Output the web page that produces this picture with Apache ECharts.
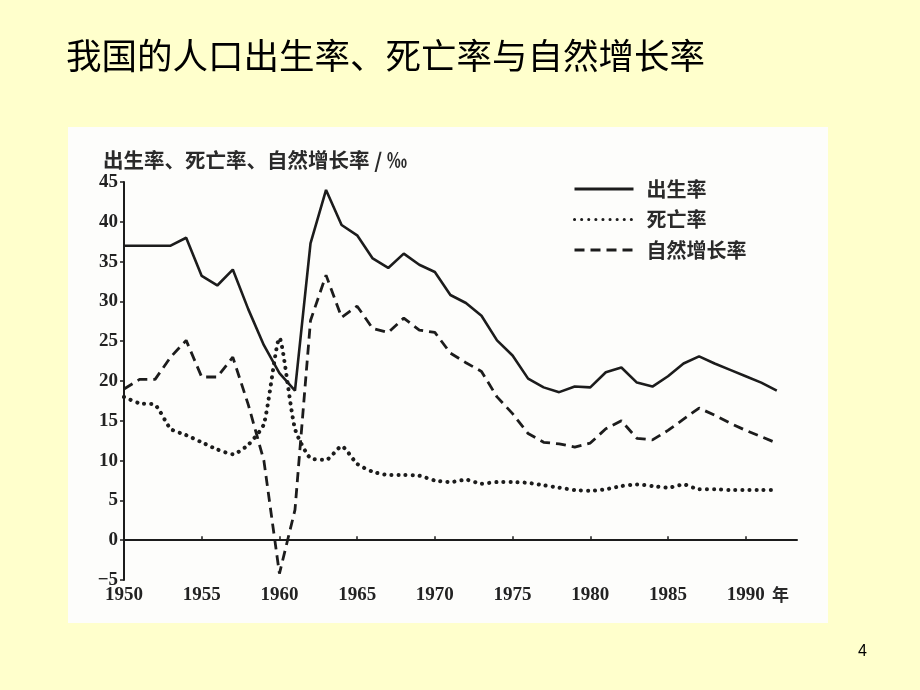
<!DOCTYPE html>
<html>
<head>
<meta charset="utf-8">
<script src="https://cdn.jsdelivr.net/npm/echarts@6/dist/echarts.min.js"></script>
<style>
html,body{margin:0;padding:0;background:#FFFFCC;}
#chart{width:920px;height:690px;}
</style>
</head>
<body>
<div id="chart"></div>
<script>
const years = [1950,1951,1952,1953,1954,1955,1956,1957,1958,1959,1960,1961,1962,1963,1964,1965,1966,1967,1968,1969,1970,1971,1972,1973,1974,1975,1976,1977,1978,1979,1980,1981,1982,1983,1984,1985,1986,1987,1988,1989,1990,1991,1992];
const birthRate = [37.0,37.0,37.0,37.0,38.0,33.2,32.0,34.0,29.0,24.5,21.0,18.8,37.3,44.0,39.6,38.3,35.4,34.2,36.0,34.6,33.7,30.8,29.8,28.2,25.1,23.2,20.3,19.2,18.6,19.3,19.2,21.1,21.7,19.8,19.3,20.6,22.2,23.1,22.2,21.4,20.6,19.8,18.8];
const deathRate = [18.0,17.2,17.0,14.0,13.2,12.3,11.4,10.8,12.0,14.6,25.4,14.0,10.3,10.1,11.8,9.6,8.6,8.2,8.2,8.1,7.5,7.3,7.6,7.1,7.3,7.3,7.2,6.9,6.6,6.3,6.2,6.4,6.8,7.0,6.8,6.6,7.0,6.4,6.4,6.3,6.3,6.3,6.3];
const growthRate = [19.0,20.2,20.2,23.0,25.1,20.5,20.5,23.0,17.0,10.0,-4.2,3.8,27.6,33.3,28.0,29.4,26.6,26.1,27.9,26.4,26.1,23.5,22.3,21.2,18.0,15.9,13.4,12.3,12.1,11.7,12.2,14.0,15.0,12.8,12.6,13.8,15.2,16.6,15.7,14.7,13.8,13.0,12.2];
const seriesNames = ['出生率','死亡率','自然增长率'];
const yTicks = {min:-5, max:45, interval:5};
const xTicks = {min:1950, interval:5};
const xUnit = '年';

const pair = (vals) => years.map((y,i)=>[y, vals[i]]);
const ink = '#1c1c1c';
const chart = echarts.init(document.getElementById('chart'));
chart.setOption({
  backgroundColor: '#FFFFCC',
  animation: false,
  graphic: [
    {type:'rect', z:-10, silent:true,
     shape:{x:68,y:127,width:760,height:496},
     style:{fill:'#FDFDFB'}},
    {type:'text', left:772, top:586, z:10, silent:true,
     style:{text:xUnit, fontFamily:'Noto Sans CJK SC', fontSize:17, fontWeight:'bold', fill:'#2a2a2a'}}
  ],
  title: [
    {text:'我国的人口出生率、死亡率与自然增长率', left:61, top:33,
     textStyle:{fontFamily:'Noto Sans CJK SC', fontSize:35.5, fontWeight:'normal', color:'#000'}},
    {text:'出生率、死亡率、自然增长率 / ‰', left:98, top:145,
     textStyle:{fontFamily:'Noto Sans CJK SC', fontSize:20.5, fontWeight:'bold', color:'#2a2a2a'}},
    {text:'4', left:853, top:639,
     textStyle:{fontFamily:'Liberation Sans', fontSize:16, fontWeight:'normal', color:'#000'}}
  ],
  legend: {
    orient:'vertical', left:568, top:174,
    itemWidth:59, itemHeight:16, itemGap:10.5,
    data: seriesNames,
    lineStyle:{width:3},
    itemStyle:{color:'transparent', borderColor:'transparent', borderWidth:0, opacity:0},
    textStyle:{fontFamily:'Noto Sans CJK SC', fontSize:20, fontWeight:'bold', color:'#2a2a2a', padding:[0,0,0,8]}
  },
  grid: {left:124, top:182, width:673, height:398},
  xAxis: {
    type:'value', min:xTicks.min, max:1993.3, interval:xTicks.interval,
    axisLine:{lineStyle:{color:ink, width:2}},
    axisTick:{inside:true, length:4, lineStyle:{color:ink, width:1.5}},
    axisLabel:{margin:6, showMaxLabel:false, fontFamily:'Liberation Serif', fontSize:19, fontWeight:'bold', color:'#222', formatter: v => String(v)},
    splitLine:{show:false}
  },
  yAxis: {
    type:'value', min:yTicks.min, max:yTicks.max, interval:yTicks.interval,
    axisLine:{show:true, lineStyle:{color:ink, width:2}},
    axisTick:{show:true, length:4, lineStyle:{color:ink, width:1.5}},
    axisLabel:{margin:6, fontFamily:'Liberation Serif', fontSize:19, fontWeight:'bold', color:'#222', formatter: v => v < 0 ? '\u2212' + Math.abs(v) : String(v)},
    splitLine:{show:false}
  },
  series: [
    {name:seriesNames[0], type:'line', data:pair(birthRate), symbol:'none',
     lineStyle:{color:ink, width:2.6}, itemStyle:{color:ink}},
    {name:seriesNames[1], type:'line', data:pair(deathRate), symbol:'none', smooth:0.2,
     lineStyle:{color:ink, width:4, type:[0.1,7], cap:'round'}, itemStyle:{color:ink}},
    {name:seriesNames[2], type:'line', data:pair(growthRate), symbol:'none',
     lineStyle:{color:ink, width:2.8, type:[10,6]}, itemStyle:{color:ink}}
  ]
});
</script>
</body>
</html>
